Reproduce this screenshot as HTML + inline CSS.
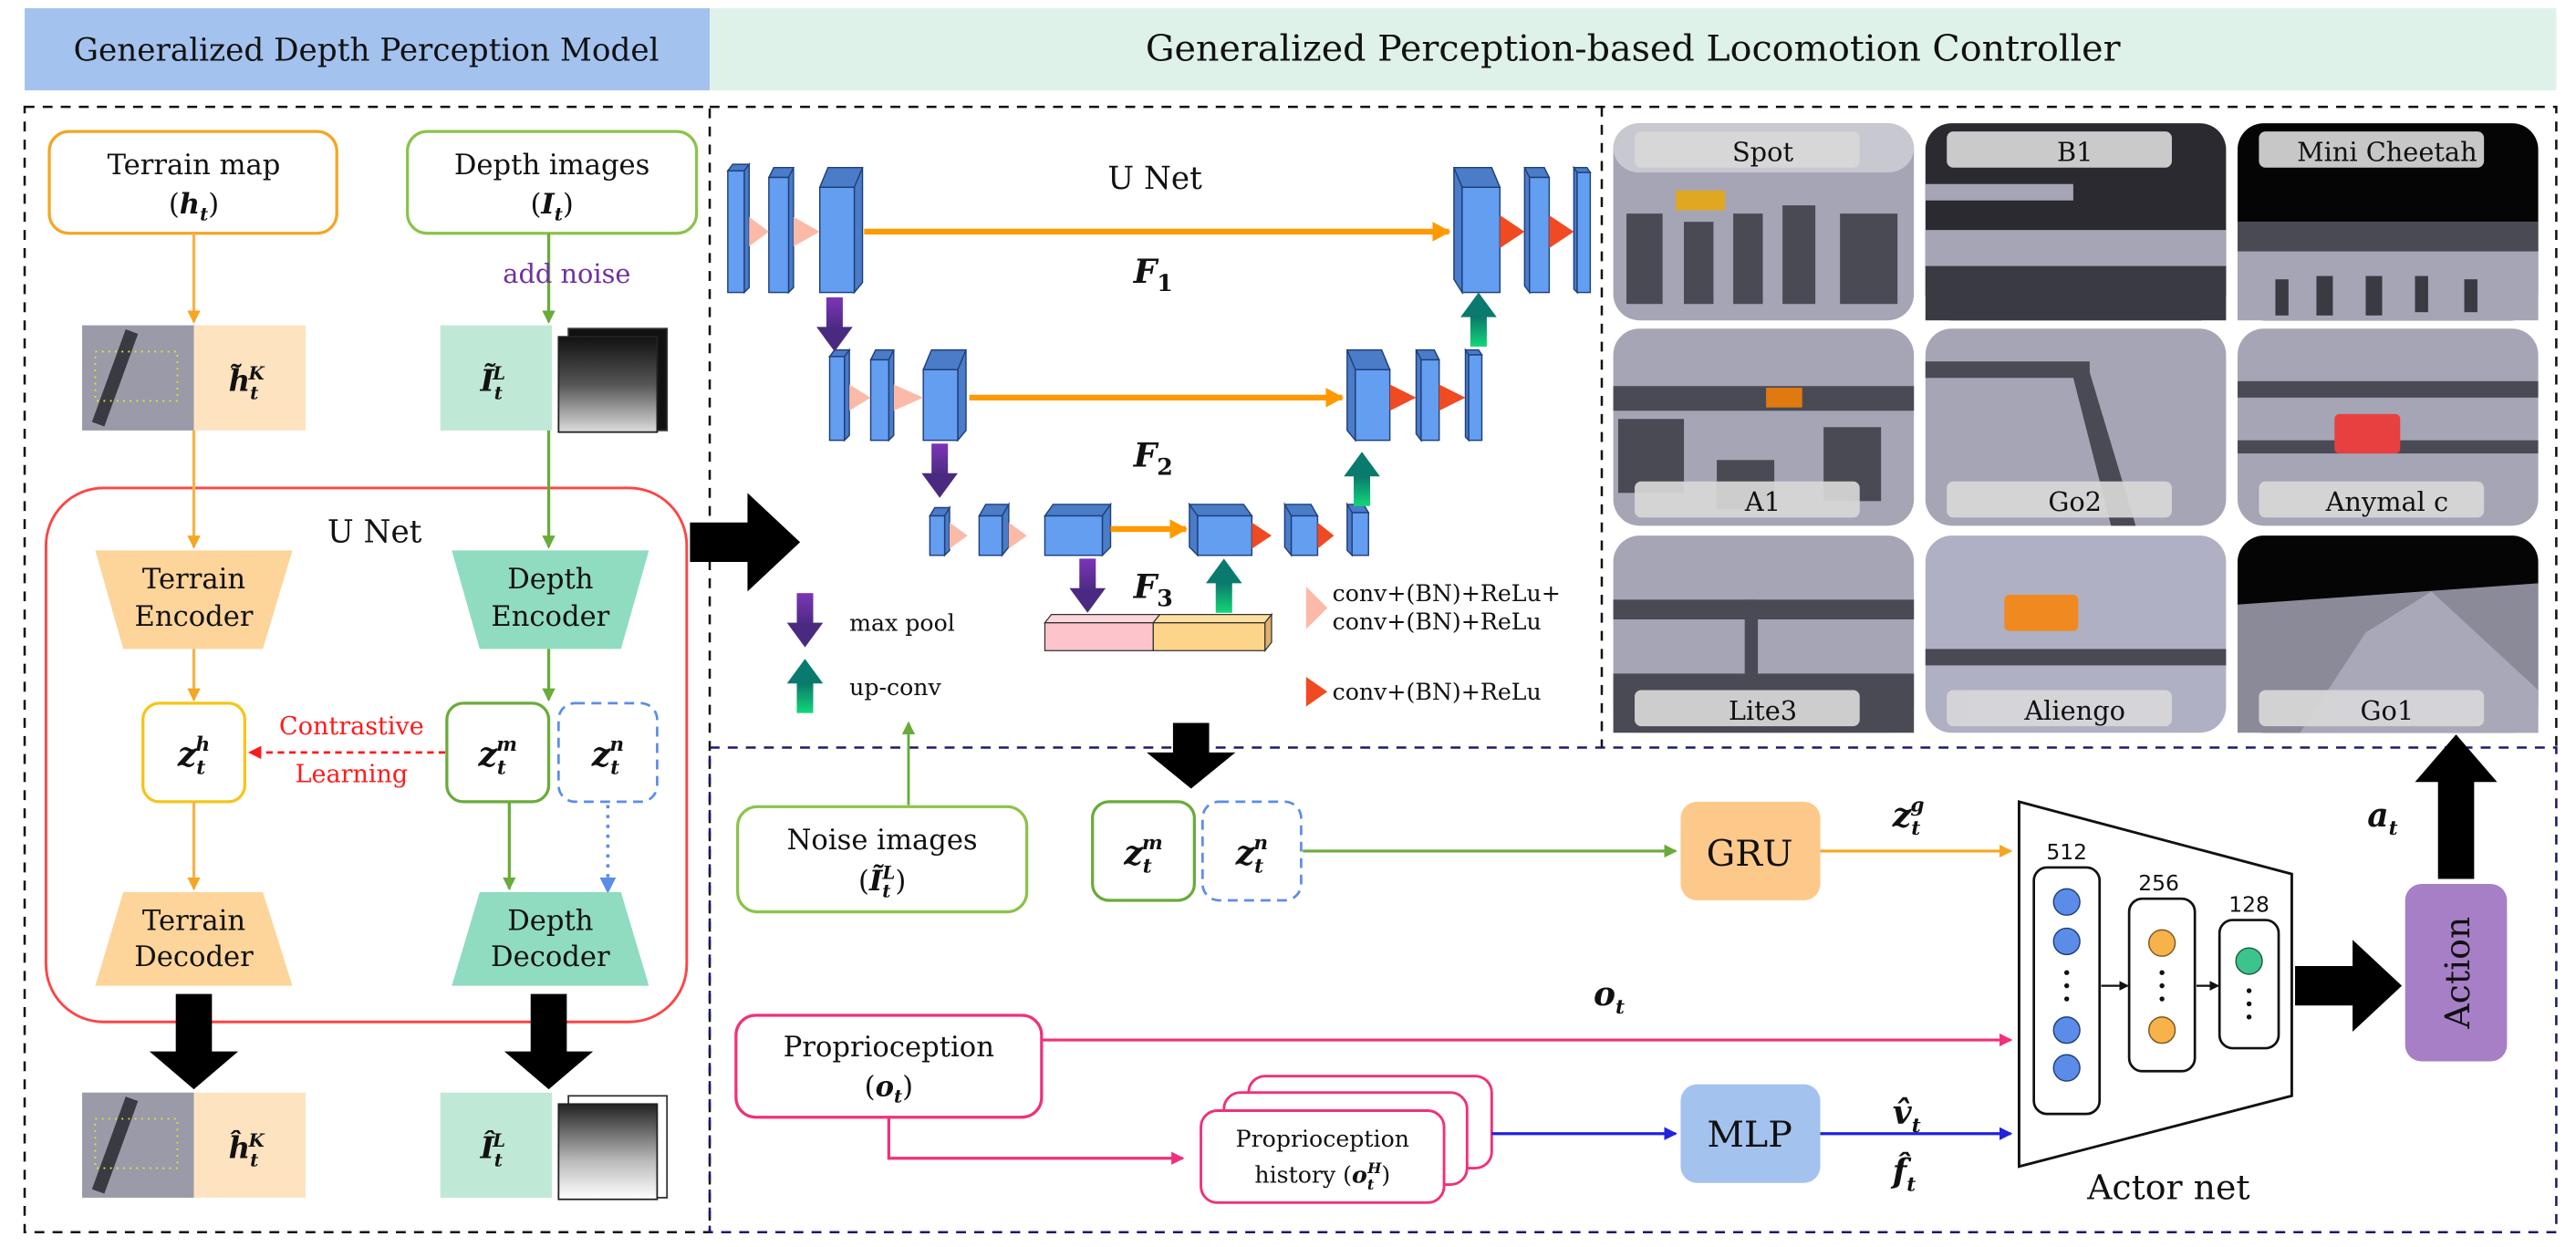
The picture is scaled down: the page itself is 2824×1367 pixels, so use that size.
<!DOCTYPE html>
<html><head><meta charset="utf-8"><style>
html,body{margin:0;padding:0;background:#fff;}
svg{display:block;}
text{font-family:"DejaVu Serif","Liberation Serif",serif;fill:#111;}
.m{font-style:italic;font-weight:bold;}
</style></head><body>
<svg width="2824" height="1367" viewBox="0 0 1568 759" xmlns="http://www.w3.org/2000/svg">
<defs>
<marker id="ao" markerWidth="8" markerHeight="8" refX="7" refY="4" orient="auto" markerUnits="userSpaceOnUse"><path d="M0,0 L8,4 L0,8z" fill="#f5a623"/></marker>
<marker id="ag" markerWidth="8" markerHeight="8" refX="7" refY="4" orient="auto" markerUnits="userSpaceOnUse"><path d="M0,0 L8,4 L0,8z" fill="#6aab3a"/></marker>
<marker id="ar" markerWidth="8" markerHeight="8" refX="7" refY="4" orient="auto" markerUnits="userSpaceOnUse"><path d="M0,0 L8,4 L0,8z" fill="#ff1a1a"/></marker>
<marker id="ab" markerWidth="10" markerHeight="10" refX="9" refY="5" orient="auto" markerUnits="userSpaceOnUse"><path d="M0,0 L10,5 L0,10z" fill="#5b8de8"/></marker>
<marker id="ap" markerWidth="8" markerHeight="8" refX="7" refY="4" orient="auto" markerUnits="userSpaceOnUse"><path d="M0,0 L8,4 L0,8z" fill="#f0307a"/></marker>
<marker id="abl" markerWidth="8" markerHeight="8" refX="7" refY="4" orient="auto" markerUnits="userSpaceOnUse"><path d="M0,0 L8,4 L0,8z" fill="#2222dd"/></marker>
<marker id="ak" markerWidth="6" markerHeight="6" refX="5" refY="3" orient="auto" markerUnits="userSpaceOnUse"><path d="M0,0 L6,3 L0,6z" fill="#111"/></marker>
<marker id="ao2" markerWidth="12" markerHeight="12" refX="10" refY="6" orient="auto" markerUnits="userSpaceOnUse"><path d="M0,0 L11,6 L0,12z" fill="#ff9900"/></marker>
<linearGradient id="gp" x1="0" y1="0" x2="0" y2="1"><stop offset="0" stop-color="#7b35b8"/><stop offset="1" stop-color="#4a2a80"/></linearGradient>
<linearGradient id="gg" x1="0" y1="1" x2="0" y2="0"><stop offset="0" stop-color="#12d878"/><stop offset="1" stop-color="#0a6e6a"/></linearGradient>
<linearGradient id="gd" x1="0" y1="0" x2="0" y2="1"><stop offset="0" stop-color="#111"/><stop offset="0.5" stop-color="#555"/><stop offset="1" stop-color="#ddd"/></linearGradient>
<linearGradient id="gd2" x1="0" y1="0" x2="0" y2="1"><stop offset="0" stop-color="#222"/><stop offset="0.6" stop-color="#bbb"/><stop offset="1" stop-color="#fff"/></linearGradient>
<g id="pdown"><rect x="-5" y="0" width="10" height="20" fill="url(#gp)"/><path d="M-11,18 L11,18 L0,33z" fill="#4a2a80"/></g>
<g id="gup"><rect x="-5" y="13" width="10" height="20" fill="url(#gg)"/><path d="M-11,15 L11,15 L0,0z" fill="#0a7a6e"/></g>
</defs>

<rect x="15" y="5" width="417" height="50" fill="#a4c2ee"/>
<text x="223" y="37" font-size="19" text-anchor="middle">Generalized Depth Perception Model</text>
<rect x="432" y="5" width="1124" height="50" fill="#dff2ea"/>
<text x="994" y="37" font-size="22" text-anchor="middle">Generalized Perception-based Locomotion Controller</text>

<rect x="15" y="65" width="417" height="685" fill="none" stroke="#111" stroke-width="1.4" stroke-dasharray="6,5"/>
<path d="M432,65 H1556 V455 M975,65 V455" fill="none" stroke="#111" stroke-width="1.4" stroke-dasharray="6,5"/>
<rect x="432" y="455" width="1124" height="295" fill="none" stroke="#1a1a6e" stroke-width="1.4" stroke-dasharray="6,5"/>

<rect x="30" y="80" width="175" height="62" rx="12" fill="#fff" stroke="#f5a623" stroke-width="1.8"/>
<text x="118" y="106" font-size="17" text-anchor="middle">Terrain map</text>
<text x="118" y="130" font-size="17" text-anchor="middle">(<tspan class="m">h</tspan><tspan class="m" font-size="11" dy="4">t</tspan><tspan dy="-4">)</tspan></text>
<rect x="248" y="80" width="176" height="62" rx="12" fill="#fff" stroke="#8bc34a" stroke-width="1.8"/>
<text x="336" y="106" font-size="17" text-anchor="middle">Depth images</text>
<text x="336" y="130" font-size="17" text-anchor="middle">(<tspan class="m">I</tspan><tspan class="m" font-size="11" dy="4">t</tspan><tspan dy="-4">)</tspan></text>
<line x1="118" y1="142" x2="118" y2="196" stroke="#f7b24a" stroke-width="1.8" marker-end="url(#ao)"/>
<line x1="334" y1="142" x2="334" y2="196" stroke="#6aab3a" stroke-width="1.8" marker-end="url(#ag)"/>
<text x="345" y="172" font-size="16" text-anchor="middle" style="fill:#7030a0">add noise</text>

<rect x="50" y="198" width="68" height="64" fill="#9a9aa8"/>
<rect x="66" y="200" width="8" height="60" fill="#3a3a42" transform="rotate(20 70 230)"/>
<rect x="58" y="214" width="50" height="30" fill="none" stroke="#e8e830" stroke-width="1" stroke-dasharray="1,3"/>
<rect x="118" y="198" width="68" height="64" fill="#fde3c0"/>
<text x="150" y="238" font-size="18" text-anchor="middle" class="m">h̃<tspan font-size="11" dy="5">t</tspan><tspan font-size="11" dy="-12" dx="-6">K</tspan></text>
<rect x="268" y="198" width="68" height="64" fill="#bfe9d6"/>
<text x="300" y="238" font-size="18" text-anchor="middle" class="m">Ĩ<tspan font-size="11" dy="5">t</tspan><tspan font-size="11" dy="-12" dx="-6">L</tspan></text>
<rect x="346" y="200" width="60" height="62" fill="#111" stroke="#333"/>
<rect x="340" y="205" width="60" height="58" fill="url(#gd)" stroke="#222"/>

<rect x="28" y="297" width="390" height="325" rx="35" fill="none" stroke="#f44" stroke-width="1.6"/>
<text x="228" y="330" font-size="19" text-anchor="middle">U Net</text>
<line x1="118" y1="262" x2="118" y2="333" stroke="#f7b24a" stroke-width="1.8" marker-end="url(#ao)"/>
<line x1="334" y1="262" x2="334" y2="333" stroke="#6aab3a" stroke-width="1.8" marker-end="url(#ag)"/>
<path d="M58,335 L178,335 L160,395 L75,395z" fill="#fdd49a"/>
<text x="118" y="358" font-size="17" text-anchor="middle">Terrain</text>
<text x="118" y="381" font-size="17" text-anchor="middle">Encoder</text>
<path d="M275,335 L395,335 L378,395 L292,395z" fill="#8fdcc0"/>
<text x="335" y="358" font-size="17" text-anchor="middle">Depth</text>
<text x="335" y="381" font-size="17" text-anchor="middle">Encoder</text>
<line x1="118" y1="395" x2="118" y2="426" stroke="#f7b24a" stroke-width="1.8" marker-end="url(#ao)"/>
<line x1="334" y1="395" x2="334" y2="426" stroke="#6aab3a" stroke-width="1.8" marker-end="url(#ag)"/>
<rect x="87" y="428" width="62" height="60" rx="10" fill="#fff" stroke="#f5c518" stroke-width="1.8"/>
<text x="118" y="466" font-size="20" text-anchor="middle" class="m">z<tspan font-size="12" dy="5">t</tspan><tspan font-size="12" dy="-14" dx="-6">h</tspan></text>
<rect x="272" y="428" width="62" height="60" rx="10" fill="#fff" stroke="#6aab3a" stroke-width="1.8"/>
<text x="303" y="466" font-size="20" text-anchor="middle" class="m">z<tspan font-size="12" dy="5">t</tspan><tspan font-size="12" dy="-14" dx="-6">m</tspan></text>
<rect x="340" y="428" width="60" height="60" rx="10" fill="#fff" stroke="#5b8de8" stroke-width="1.5" stroke-dasharray="6,4"/>
<text x="370" y="466" font-size="20" text-anchor="middle" class="m">z<tspan font-size="12" dy="5">t</tspan><tspan font-size="12" dy="-14" dx="-6">n</tspan></text>
<text x="214" y="447" font-size="15" text-anchor="middle" style="fill:#ff1a1a">Contrastive</text>
<text x="214" y="476" font-size="15" text-anchor="middle" style="fill:#ff1a1a">Learning</text>
<line x1="271" y1="458" x2="152" y2="458" stroke="#ff1a1a" stroke-width="1.5" stroke-dasharray="4,3" marker-end="url(#ar)"/>
<line x1="118" y1="488" x2="118" y2="541" stroke="#f7b24a" stroke-width="1.8" marker-end="url(#ao)"/>
<line x1="310" y1="488" x2="310" y2="541" stroke="#6aab3a" stroke-width="1.8" marker-end="url(#ag)"/>
<line x1="370" y1="490" x2="370" y2="543" stroke="#5b8de8" stroke-width="2" stroke-dasharray="2,4" marker-end="url(#ab)"/>
<path d="M75,543 L160,543 L178,600 L58,600z" fill="#fdd49a"/>
<text x="118" y="566" font-size="17" text-anchor="middle">Terrain</text>
<text x="118" y="588" font-size="17" text-anchor="middle">Decoder</text>
<path d="M292,543 L378,543 L395,600 L275,600z" fill="#8fdcc0"/>
<text x="335" y="566" font-size="17" text-anchor="middle">Depth</text>
<text x="335" y="588" font-size="17" text-anchor="middle">Decoder</text>
<path d="M107,605 L129,605 L129,640 L145,640 L118,663 L91,640 L107,640z" fill="#000"/>
<path d="M323,605 L345,605 L345,640 L361,640 L334,663 L307,640 L323,640z" fill="#000"/>
<rect x="50" y="665" width="68" height="64" fill="#9a9aa8"/>
<rect x="66" y="667" width="8" height="60" fill="#3a3a42" transform="rotate(20 70 697)"/>
<rect x="58" y="681" width="50" height="30" fill="none" stroke="#e8e830" stroke-width="1" stroke-dasharray="1,3"/>
<rect x="118" y="665" width="68" height="64" fill="#fde3c0"/>
<text x="150" y="705" font-size="18" text-anchor="middle" class="m">ĥ<tspan font-size="11" dy="5">t</tspan><tspan font-size="11" dy="-12" dx="-6">K</tspan></text>
<rect x="268" y="665" width="68" height="64" fill="#bfe9d6"/>
<text x="300" y="705" font-size="18" text-anchor="middle" class="m">Î<tspan font-size="11" dy="5">t</tspan><tspan font-size="11" dy="-12" dx="-6">L</tspan></text>
<rect x="346" y="667" width="60" height="62" fill="#fff" stroke="#333"/>
<rect x="340" y="672" width="60" height="58" fill="url(#gd2)" stroke="#222"/>

<path d="M420,318 L455,318 L455,300 L487,330 L455,360 L455,342 L420,342z" fill="#000"/>

<g stroke="#1f3f7a" stroke-width="0.8">
<path d="M443,104 L453,104 L456,100 L446,100z M453,104 L456,100 L456,175 L453,178z" fill="#4a7cc8"/><rect x="443" y="104" width="10" height="74" fill="#639ef0"/>
<path d="M468,108 L480,108 L483,102 L471,102z M480,108 L483,102 L483,175 L480,178z" fill="#4a7cc8"/><rect x="468" y="108" width="12" height="70" fill="#639ef0"/>
<path d="M499,114 L520,114 L525,102 L504,102z M520,114 L525,102 L525,172 L520,178z" fill="#4a7cc8"/><rect x="499" y="114" width="21" height="64" fill="#639ef0"/>
<path d="M885,102 L908,102 L913,114 L890,114z M885,102 L890,114 L890,178 L885,170z" fill="#4a7cc8"/><rect x="890" y="114" width="23" height="64" fill="#639ef0"/>
<path d="M928,102 L940,102 L943,108 L931,108z M928,102 L931,108 L931,178 L928,174z" fill="#4a7cc8"/><rect x="931" y="108" width="12" height="70" fill="#639ef0"/>
<path d="M958,102 L966,102 L968,105 L960,105z M958,102 L960,105 L960,178 L958,176z" fill="#4a7cc8"/><rect x="960" y="105" width="8" height="73" fill="#639ef0"/>
<path d="M505,217 L514,217 L517,213 L508,213z M514,217 L517,213 L517,265 L514,268z" fill="#4a7cc8"/><rect x="505" y="217" width="9" height="51" fill="#639ef0"/>
<path d="M530,219 L541,219 L544,213 L533,213z M541,219 L544,213 L544,265 L541,268z" fill="#4a7cc8"/><rect x="530" y="219" width="11" height="49" fill="#639ef0"/>
<path d="M562,225 L583,225 L588,213 L567,213z M583,225 L588,213 L588,262 L583,268z" fill="#4a7cc8"/><rect x="562" y="225" width="21" height="43" fill="#639ef0"/>
<path d="M820,213 L841,213 L846,225 L825,225z M820,213 L825,225 L825,268 L820,262z" fill="#4a7cc8"/><rect x="825" y="225" width="21" height="43" fill="#639ef0"/>
<path d="M862,213 L873,213 L876,219 L865,219z M862,213 L865,219 L865,268 L862,264z" fill="#4a7cc8"/><rect x="865" y="219" width="11" height="49" fill="#639ef0"/>
<path d="M892,213 L900,213 L902,216 L894,216z M892,213 L894,216 L894,268 L892,266z" fill="#4a7cc8"/><rect x="894" y="216" width="8" height="52" fill="#639ef0"/>
<path d="M566,314 L575,314 L578,309 L569,309z M575,314 L578,309 L578,335 L575,338z" fill="#4a7cc8"/><rect x="566" y="314" width="9" height="24" fill="#639ef0"/>
<path d="M596,314 L610,314 L614,307 L600,307z M610,314 L614,307 L614,333 L610,338z" fill="#4a7cc8"/><rect x="596" y="314" width="14" height="24" fill="#639ef0"/>
<path d="M636,314 L671,314 L676,307 L641,307z M671,314 L676,307 L676,333 L671,338z" fill="#4a7cc8"/><rect x="636" y="314" width="35" height="24" fill="#639ef0"/>
<path d="M724,307 L757,307 L762,314 L729,314z M724,307 L729,314 L729,338 L724,333z" fill="#4a7cc8"/><rect x="729" y="314" width="33" height="24" fill="#639ef0"/>
<path d="M782,307 L798,307 L802,314 L786,314z M782,307 L786,314 L786,338 L782,333z" fill="#4a7cc8"/><rect x="786" y="314" width="16" height="24" fill="#639ef0"/>
<path d="M820,307 L830,307 L833,312 L823,312z M820,307 L823,312 L823,338 L820,335z" fill="#4a7cc8"/><rect x="823" y="312" width="10" height="26" fill="#639ef0"/>
</g>
<g fill="#fbbaa8">
<path d="M456,132 L468,141 L456,150z"/><path d="M483,132 L499,141 L483,150z"/>
<path d="M517,234 L530,242 L517,250z"/><path d="M544,234 L562,242 L544,250z"/>
<path d="M578,318 L589,326 L578,334z"/><path d="M614,318 L625,326 L614,334z"/>
</g>
<g fill="#f04a22">
<path d="M913,131 L928,141 L913,151z"/><path d="M943,131 L958,141 L943,151z"/>
<path d="M846,234 L862,242 L846,250z"/><path d="M876,234 L892,242 L876,250z"/>
<path d="M762,318 L774,326 L762,334z"/><path d="M802,318 L812,326 L802,334z"/>
</g>
<line x1="526" y1="141" x2="882" y2="141" stroke="#ff9900" stroke-width="3.5" marker-end="url(#ao2)"/>
<line x1="590" y1="242" x2="817" y2="242" stroke="#ff9900" stroke-width="3.5" marker-end="url(#ao2)"/>
<line x1="676" y1="322" x2="722" y2="322" stroke="#ff9900" stroke-width="3.5" marker-end="url(#ao2)"/>
<text x="703" y="115" font-size="19" text-anchor="middle">U Net</text>
<text x="690" y="172" font-size="20" class="m">F<tspan font-size="14" dy="5" font-style="normal">1</tspan></text>
<text x="690" y="284" font-size="20" class="m">F<tspan font-size="14" dy="5" font-style="normal">2</tspan></text>
<text x="690" y="364" font-size="20" class="m">F<tspan font-size="14" dy="5" font-style="normal">3</tspan></text>
<use href="#pdown" x="508" y="181"/>
<use href="#pdown" x="572" y="270"/>
<use href="#pdown" x="662" y="340"/>
<use href="#gup" x="900" y="178"/>
<use href="#gup" x="829" y="275"/>
<use href="#gup" x="745" y="340"/>
<path d="M636,379 L702,379 L702,396 L636,396z" fill="#fdc5cb" stroke="#333" stroke-width="0.7"/>
<path d="M636,379 L640,374 L706,374 L702,379z" fill="#fdd6dc" stroke="#333" stroke-width="0.7"/>
<path d="M702,379 L770,379 L770,396 L702,396z" fill="#fdd58a" stroke="#333" stroke-width="0.7"/>
<path d="M702,379 L706,374 L774,374 L770,379z" fill="#fde0a0" stroke="#333" stroke-width="0.7"/>
<path d="M770,379 L774,374 L774,391 L770,396z" fill="#e0b070" stroke="#333" stroke-width="0.7"/>
<use href="#pdown" x="490" y="361"/>
<text x="517" y="384" font-size="14">max pool</text>
<use href="#gup" x="490" y="401"/>
<text x="517" y="423" font-size="14">up-conv</text>
<path d="M795,357 L808,370 L795,383z" fill="#fbbaa8"/>
<text x="811" y="366" font-size="14">conv+(BN)+ReLu+</text>
<text x="811" y="383" font-size="14">conv+(BN)+ReLu</text>
<path d="M795,412 L808,421 L795,430z" fill="#f04a22"/>
<text x="811" y="426" font-size="14">conv+(BN)+ReLu</text>

<g>
<rect x="982" y="75" width="183" height="120" rx="16" fill="#a5a5b5"/>
<rect x="982" y="75" width="183" height="30" rx="16" fill="#c8c8d0"/>
<rect x="990" y="130" width="22" height="55" fill="#4a4a54"/><rect x="1025" y="135" width="18" height="50" fill="#4a4a54"/><rect x="1055" y="130" width="18" height="55" fill="#4a4a54"/><rect x="1085" y="125" width="20" height="60" fill="#4a4a54"/><rect x="1120" y="130" width="35" height="55" fill="#4a4a54"/>
<rect x="1020" y="116" width="30" height="12" fill="#e0a820"/>
<rect x="1172" y="75" width="183" height="120" rx="16" fill="#2a2a30"/>
<rect x="1172" y="140" width="183" height="22" fill="#a5a5b5"/><rect x="1172" y="112" width="90" height="10" fill="#a5a5b5"/>
<rect x="1172" y="162" width="183" height="33" rx="0" fill="#3a3a42"/>
<rect x="1362" y="75" width="183" height="120" rx="16" fill="#050505"/>
<rect x="1362" y="135" width="183" height="60" fill="#a5a5b5"/><rect x="1362" y="135" width="183" height="18" fill="#4a4a54"/>
<g fill="#3a3a42"><rect x="1385" y="170" width="8" height="22"/><rect x="1410" y="168" width="10" height="24"/><rect x="1440" y="168" width="10" height="24"/><rect x="1470" y="168" width="8" height="22"/><rect x="1500" y="170" width="8" height="20"/></g>
<rect x="982" y="200" width="183" height="120" rx="16" fill="#a5a5b5"/>
<rect x="982" y="235" width="183" height="15" fill="#4a4a54"/><rect x="985" y="255" width="40" height="45" fill="#4a4a54"/><rect x="1045" y="280" width="35" height="30" fill="#4a4a54"/><rect x="1110" y="260" width="35" height="45" fill="#4a4a54"/>
<rect x="1075" y="236" width="22" height="12" fill="#e07a10"/>
<rect x="1172" y="200" width="183" height="120" rx="16" fill="#a5a5b5"/>
<rect x="1172" y="220" width="100" height="10" fill="#4a4a54"/>
<path d="M1270,220 L1300,320 L1285,320 L1262,230z" fill="#4a4a54"/>
<rect x="1362" y="200" width="183" height="120" rx="16" fill="#a5a5b5"/>
<rect x="1362" y="232" width="183" height="10" fill="#4a4a54"/><rect x="1362" y="268" width="183" height="8" fill="#4a4a54"/>
<rect x="1421" y="252" width="40" height="24" rx="3" fill="#e84040"/>
<rect x="982" y="326" width="183" height="120" rx="16" fill="#a5a5b5"/>
<rect x="982" y="365" width="183" height="12" fill="#4a4a54"/><rect x="982" y="410" width="183" height="36" fill="#4a4a54"/><rect x="1062" y="365" width="8" height="80" fill="#4a4a54"/>
<rect x="1172" y="326" width="183" height="120" rx="16" fill="#b0b0c4"/>
<rect x="1172" y="395" width="183" height="10" fill="#4a4a54"/>
<rect x="1220" y="362" width="45" height="22" rx="3" fill="#f08a20"/>
<rect x="1362" y="326" width="183" height="120" rx="16" fill="#050505"/>
<path d="M1362,368 L1545,355 L1545,446 L1362,446z" fill="#8a8a98"/>
<path d="M1400,446 L1440,385 L1480,360 L1545,420 L1545,446z" fill="#a8a8b8"/>
</g>
<g fill="#d8d8d8" opacity="0.92">
<rect x="995" y="80" width="137" height="22" rx="4"/><rect x="1185" y="80" width="137" height="22" rx="4"/><rect x="1375" y="80" width="137" height="22" rx="4"/>
<rect x="995" y="293" width="137" height="22" rx="4"/><rect x="1185" y="293" width="137" height="22" rx="4"/><rect x="1375" y="293" width="137" height="22" rx="4"/>
<rect x="995" y="420" width="137" height="22" rx="4"/><rect x="1185" y="420" width="137" height="22" rx="4"/><rect x="1375" y="420" width="137" height="22" rx="4"/>
</g>
<g font-size="16" text-anchor="middle">
<text x="1073" y="98">Spot</text><text x="1263" y="98">B1</text><text x="1453" y="98">Mini Cheetah</text>
<text x="1073" y="311">A1</text><text x="1263" y="311">Go2</text><text x="1453" y="311">Anymal c</text>
<text x="1073" y="438">Lite3</text><text x="1263" y="438">Aliengo</text><text x="1453" y="438">Go1</text>
</g>

<path d="M714,440 L736,440 L736,458 L752,458 L725,480 L698,458 L714,458z" fill="#000"/>
<rect x="449" y="491" width="176" height="64" rx="12" fill="#fff" stroke="#8bc34a" stroke-width="1.8"/>
<text x="537" y="517" font-size="17" text-anchor="middle">Noise images</text>
<text x="537" y="542" font-size="17" text-anchor="middle">(<tspan class="m">Ĩ</tspan><tspan class="m" font-size="11" dy="4">t</tspan><tspan class="m" font-size="11" dy="-11" dx="-5">L</tspan><tspan dy="7">)</tspan></text>
<line x1="553" y1="490" x2="553" y2="440" stroke="#6aab3a" stroke-width="1.6" marker-end="url(#ag)"/>
<rect x="665" y="488" width="62" height="60" rx="10" fill="#fff" stroke="#6aab3a" stroke-width="1.8"/>
<text x="696" y="526" font-size="20" text-anchor="middle" class="m">z<tspan font-size="12" dy="5">t</tspan><tspan font-size="12" dy="-14" dx="-6">m</tspan></text>
<rect x="732" y="488" width="60" height="60" rx="10" fill="#fff" stroke="#5b8de8" stroke-width="1.5" stroke-dasharray="6,4"/>
<text x="762" y="526" font-size="20" text-anchor="middle" class="m">z<tspan font-size="12" dy="5">t</tspan><tspan font-size="12" dy="-14" dx="-6">n</tspan></text>
<line x1="793" y1="518" x2="1020" y2="518" stroke="#6aab3a" stroke-width="1.8" marker-end="url(#ag)"/>
<rect x="1023" y="488" width="85" height="60" rx="10" fill="#fdc98a"/>
<text x="1065" y="527" font-size="22" text-anchor="middle">GRU</text>
<line x1="1108" y1="518" x2="1224" y2="518" stroke="#f5a623" stroke-width="1.8" marker-end="url(#ao)"/>
<text x="1152" y="503" font-size="20" class="m">z<tspan font-size="12" dy="5">t</tspan><tspan font-size="12" dy="-14" dx="-6">g</tspan></text>

<path d="M1229,488 L1395,532 L1395,667 L1229,710z" fill="#fff" stroke="#111" stroke-width="1.6"/>
<text x="1320" y="730" font-size="21" text-anchor="middle">Actor net</text>
<text x="1258" y="523" font-size="13" text-anchor="middle" style="font-family:'DejaVu Sans',sans-serif">512</text>
<text x="1314" y="542" font-size="13" text-anchor="middle" style="font-family:'DejaVu Sans',sans-serif">256</text>
<text x="1369" y="555" font-size="13" text-anchor="middle" style="font-family:'DejaVu Sans',sans-serif">128</text>
<rect x="1238" y="528" width="40" height="150" rx="8" fill="#fff" stroke="#111" stroke-width="1.5"/>
<rect x="1296" y="547" width="40" height="105" rx="8" fill="#fff" stroke="#111" stroke-width="1.5"/>
<rect x="1351" y="560" width="36" height="78" rx="8" fill="#fff" stroke="#111" stroke-width="1.5"/>
<g fill="#5b8de8" stroke="#1f3f7a" stroke-width="0.8"><circle cx="1258" cy="549" r="8"/><circle cx="1258" cy="573" r="8"/><circle cx="1258" cy="627" r="8"/><circle cx="1258" cy="650" r="8"/></g>
<g fill="#f7b24a" stroke="#7a5a1f" stroke-width="0.8"><circle cx="1316" cy="574" r="8"/><circle cx="1316" cy="627" r="8"/></g>
<circle cx="1369" cy="585" r="8" fill="#3cc48c" stroke="#1f5a3a" stroke-width="0.8"/>
<g fill="#111"><circle cx="1258" cy="592" r="1.5"/><circle cx="1258" cy="600" r="1.5"/><circle cx="1258" cy="608" r="1.5"/>
<circle cx="1316" cy="592" r="1.5"/><circle cx="1316" cy="600" r="1.5"/><circle cx="1316" cy="608" r="1.5"/>
<circle cx="1369" cy="603" r="1.5"/><circle cx="1369" cy="611" r="1.5"/><circle cx="1369" cy="619" r="1.5"/></g>
<line x1="1279" y1="600" x2="1295" y2="600" stroke="#111" stroke-width="1.2" marker-end="url(#ak)"/>
<line x1="1337" y1="600" x2="1350" y2="600" stroke="#111" stroke-width="1.2" marker-end="url(#ak)"/>
<path d="M1397,588 L1432,588 L1432,572 L1462,600 L1432,628 L1432,612 L1397,612z" fill="#000"/>
<rect x="1464" y="538" width="62" height="108" rx="10" fill="#a67fc6"/>
<text x="1503" y="592" font-size="21" text-anchor="middle" transform="rotate(-90 1503 592)">Action</text>
<path d="M1484,535 L1506,535 L1506,476 L1520,476 L1495,447 L1470,476 L1484,476z" fill="#000"/>
<text x="1441" y="503" font-size="20" class="m">a<tspan font-size="12" dy="5">t</tspan></text>

<rect x="448" y="618" width="186" height="62" rx="12" fill="#fff" stroke="#f0307a" stroke-width="1.8"/>
<text x="541" y="643" font-size="17" text-anchor="middle">Proprioception</text>
<text x="541" y="667" font-size="17" text-anchor="middle">(<tspan class="m">o</tspan><tspan class="m" font-size="11" dy="4">t</tspan><tspan dy="-4">)</tspan></text>
<line x1="634" y1="633" x2="1224" y2="633" stroke="#f0307a" stroke-width="1.8" marker-end="url(#ap)"/>
<text x="970" y="612" font-size="20" class="m">o<tspan font-size="12" dy="5">t</tspan></text>
<path d="M541,680 L541,705 L720,705" fill="none" stroke="#f0307a" stroke-width="1.8" marker-end="url(#ap)"/>
<rect x="760" y="655" width="148" height="56" rx="10" fill="#fff" stroke="#f0307a" stroke-width="1.6"/>
<rect x="745" y="665" width="148" height="56" rx="10" fill="#fff" stroke="#f0307a" stroke-width="1.6"/>
<rect x="731" y="676" width="148" height="56" rx="10" fill="#fff" stroke="#f0307a" stroke-width="1.6"/>
<text x="805" y="698" font-size="14" text-anchor="middle">Proprioception</text>
<text x="805" y="720" font-size="14" text-anchor="middle">history (<tspan class="m">o</tspan><tspan class="m" font-size="9" dy="4">t</tspan><tspan class="m" font-size="9" dy="-10" dx="-4">H</tspan><tspan dy="6">)</tspan></text>
<line x1="908" y1="690" x2="1020" y2="690" stroke="#2222dd" stroke-width="1.8" marker-end="url(#abl)"/>
<rect x="1023" y="660" width="85" height="60" rx="10" fill="#a4c2ee"/>
<text x="1065" y="698" font-size="22" text-anchor="middle">MLP</text>
<line x1="1108" y1="690" x2="1224" y2="690" stroke="#2222dd" stroke-width="1.8" marker-end="url(#abl)"/>
<text x="1152" y="684" font-size="20" class="m">v̂<tspan font-size="12" dy="5">t</tspan></text>
<text x="1152" y="720" font-size="20" class="m">f̂<tspan font-size="12" dy="5">t</tspan></text>
</svg>
</body></html>
